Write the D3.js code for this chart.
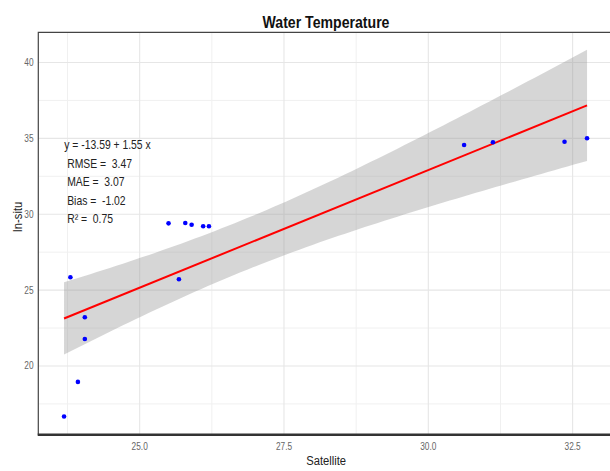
<!DOCTYPE html>
<html>
<head>
<meta charset="utf-8">
<script src="https://cdn.jsdelivr.net/npm/d3@7"></script>
<style>
  body { margin: 0; background: #fff; }
  svg text { font-family: "Liberation Sans Narrow", "Arial Narrow", "Liberation Sans", Arial, sans-serif; }
</style>
</head>
<body>
<svg id="chart" width="610" height="471"></svg>
<script>
// Matched satellite / in-situ water temperatures (°C)
const satellite = [23.69, 23.80, 23.93, 24.05, 24.05, 25.50, 25.68, 25.79, 25.90, 26.10, 26.20, 30.62, 31.12, 32.36, 32.75];
const inSitu    = [16.67, 25.85, 18.95, 23.21, 21.78, 29.40, 25.71, 29.42, 29.31, 29.21, 29.21, 34.56, 34.74, 34.78, 35.01];

// Fitted model and error statistics
const intercept = -13.59;
const slope = 1.55;
const statLines = [
  "y = -13.59 + 1.55 x",
  " RMSE =  3.47",
  " MAE =  3.07",
  " Bias =  -1.02",
  " R\u00b2 =  0.75"
];

const xTicks = [25.0, 27.5, 30.0, 32.5];
const yTicks = [20, 25, 30, 35, 40];
const xMinor = [23.75, 26.25, 28.75, 31.25];
const yMinor = [17.5, 22.5, 27.5, 32.5, 37.5];

const svg = d3.select("#chart");
const plot = { left: 38.3, right: 614.3, top: 32.3, bottom: 434.7 };

const x = d3.scaleLinear().domain([23.244, 33.222]).range([plot.left, plot.right]);
const y = d3.scaleLinear().domain([15.47, 41.99]).range([plot.bottom, plot.top]);

// Condensed text: horizontal squeeze of the regular face
const squeeze = 0.83;
const at = (px, py, rot) =>
  `translate(${px},${py})` + (rot ? ` rotate(${rot})` : "") + ` scale(${squeeze},1)`;

// Grid
const grid = svg.append("g");
grid.selectAll(".vminor").data(xMinor).join("line")
  .attr("x1", d => x(d)).attr("x2", d => x(d))
  .attr("y1", plot.top).attr("y2", plot.bottom)
  .attr("stroke", "#f0f0f0").attr("stroke-width", 1);
grid.selectAll(".hminor").data(yMinor).join("line")
  .attr("x1", plot.left).attr("x2", plot.right)
  .attr("y1", d => y(d)).attr("y2", d => y(d))
  .attr("stroke", "#f0f0f0").attr("stroke-width", 1);
grid.selectAll(".vmajor").data(xTicks).join("line")
  .attr("x1", d => x(d)).attr("x2", d => x(d))
  .attr("y1", plot.top).attr("y2", plot.bottom)
  .attr("stroke", "#e6e6e6").attr("stroke-width", 1.1);
grid.selectAll(".hmajor").data(yTicks).join("line")
  .attr("x1", plot.left).attr("x2", plot.right)
  .attr("y1", d => y(d)).attr("y2", d => y(d))
  .attr("stroke", "#e6e6e6").attr("stroke-width", 1.1);

// 95% confidence band of the fitted line
const n = satellite.length;
const xMean = d3.mean(satellite);
const sxx = d3.sum(satellite, v => (v - xMean) ** 2);
const fit = v => intercept + slope * v;
const sse = d3.sum(satellite, (v, i) => (inSitu[i] - fit(v)) ** 2);
const sRes = Math.sqrt(sse / (n - 2));
const tCrit = 2.1604; // t quantile, 0.975, 13 df
const [xLo, xHi] = d3.extent(satellite);
const gridX = d3.range(0, 81).map(k => xLo + (xHi - xLo) * k / 80);
const band = gridX.map(v => {
  const se = sRes * Math.sqrt(1 / n + (v - xMean) ** 2 / sxx);
  return { x: v, lo: fit(v) - tCrit * se, hi: fit(v) + tCrit * se };
});
svg.append("path")
  .datum(band)
  .attr("d", d3.area().x(d => x(d.x)).y0(d => y(d.lo)).y1(d => y(d.hi)))
  .attr("fill", "#999999").attr("fill-opacity", 0.4);

// Regression line
svg.append("path")
  .datum([xLo, xHi])
  .attr("d", d3.line().x(d => x(d)).y(d => y(fit(d))))
  .attr("fill", "none").attr("stroke", "#ff0000").attr("stroke-width", 2);

// Points
svg.append("g").selectAll("circle").data(satellite).join("circle")
  .attr("cx", d => x(d)).attr("cy", (d, i) => y(inSitu[i]))
  .attr("r", 2.3).attr("fill", "#0000ff");

// Panel border (left and top) and bottom axis line
svg.append("path")
  .attr("d", `M${plot.left},${plot.bottom} V${plot.top} H${plot.right}`)
  .attr("fill", "none").attr("stroke", "#444").attr("stroke-width", 1.2);
svg.append("line")
  .attr("x1", plot.left - 0.6).attr("x2", plot.right)
  .attr("y1", plot.bottom).attr("y2", plot.bottom)
  .attr("stroke", "#333").attr("stroke-width", 2.4);

// Tick labels
svg.append("g").selectAll("text").data(xTicks).join("text")
  .attr("transform", d => at(x(d), 450))
  .attr("text-anchor", "middle").attr("font-size", 10).attr("fill", "#666")
  .text(d => d3.format(".1f")(d));
svg.append("g").selectAll("text").data(yTicks).join("text")
  .attr("transform", d => at(33.5, y(d) + 3.5))
  .attr("text-anchor", "end").attr("font-size", 10).attr("fill", "#666")
  .text(d => d);

// Axis titles
svg.append("text")
  .attr("transform", at(x(28.23), 465))
  .attr("text-anchor", "middle").attr("font-size", 13.5).attr("fill", "#222")
  .text("Satellite");
svg.append("text")
  .attr("transform", at(21.5, 217, -90))
  .attr("text-anchor", "middle").attr("font-size", 13.5).attr("fill", "#222")
  .text("In-situ");

// Title
svg.append("text")
  .attr("transform", at(326, 28))
  .attr("text-anchor", "middle").attr("font-size", 17).attr("font-weight", "bold")
  .attr("fill", "#111")
  .text("Water Temperature");

// Statistics annotation
svg.append("g").selectAll("text").data(statLines).join("text")
  .attr("transform", (d, i) => at(64.3, 149 + i * 18.6))
  .attr("font-size", 12.5).attr("fill", "#222")
  .style("white-space", "pre")
  .text(d => d);
</script>
</body>
</html>
